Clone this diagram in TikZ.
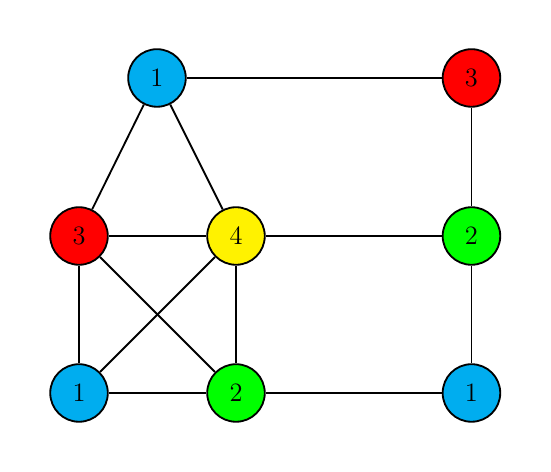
\documentclass[tikz,border=0pt]{standalone}
\tikzset{
  vert/.style={circle,draw,line width=1pt,minimum size=1.1cm,inner sep=0pt,font=\Large},
  edge/.style={line width=1pt}
}
\begin{document}
\begin{tikzpicture}
\useasboundingbox (0,0) rectangle (10.53,9.02);
\node[vert,fill=cyan] (a) at (3,7.53) {1};
\node[vert,fill=red] (b) at (9.01,7.53) {3};
\node[vert,fill=red] (c) at (1.51,4.51) {3};
\node[vert,fill=yellow] (d) at (4.51,4.51) {4};
\node[vert,fill=green] (e) at (9.01,4.51) {2};
\node[vert,fill=cyan] (f) at (1.51,1.51) {1};
\node[vert,fill=green] (g) at (4.51,1.51) {2};
\node[vert,fill=cyan] (h) at (9.01,1.51) {1};

\draw[edge] (a) -- (b);
\draw[edge] (a) -- (c);
\draw[edge] (a) -- (d);
\draw[edge] (b) -- (e);
\draw[edge] (c) -- (d);
\draw[edge] (d) -- (e);
\draw[edge] (c) -- (f);
\draw[edge] (c) -- (g);
\draw[edge] (d) -- (f);
\draw[edge] (d) -- (g);
\draw[edge] (e) -- (h);
\draw[edge] (f) -- (g);
\draw[edge] (g) -- (h);
\end{tikzpicture}
\end{document}
